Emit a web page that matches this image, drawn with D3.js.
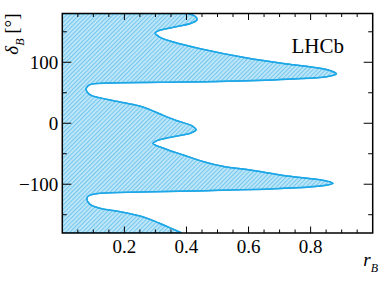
<!DOCTYPE html>
<html>
<head>
<meta charset="utf-8">
<script src="https://cdn.jsdelivr.net/npm/d3@7"></script>
<style>
  html, body { margin: 0; padding: 0; background: #fff; }
  svg { display: block; }
  text { font-family: "Liberation Serif", "DejaVu Serif", serif; fill: #000; }
</style>
</head>
<body>
<div id="chart"></div>
<script>
// boundary of the allowed region (delta_B in degrees, r_B)
const deltaB = [180, 175.4, 169.8, 164.4, 157.3, 151.8, 148, 141, 133.3, 122.3, 107, 97.2, 91.7, 86.2, 81,
  76.4, 72.6, 68.8, 67.1, 66, 63.3, 56.2, 50, 45.2, 37, 28.8, 23.4, 15.2, 4.2, -4, -11, -16.5, -22, -28.6,
  -33, -41, -52, -63, -71, -76.7, -86.5, -92, -96.4, -98.5, -103, -107.3, -111, -113.3, -115.5, -119.3,
  -123.7, -133, -139.5, -145, -152, -157.6, -166.9, -180];
const rB = [0.405, 0.428, 0.434, 0.417, 0.358, 0.310, 0.299, 0.315, 0.358, 0.444, 0.595, 0.724, 0.81, 0.864, 0.883,
  0.853, 0.745, 0.53, 0.315, 0.154, 0.089, 0.0765, 0.082, 0.095, 0.165, 0.245, 0.277, 0.315, 0.369, 0.417, 0.431, 0.412, 0.358, 0.305,
  0.292, 0.326, 0.39, 0.455, 0.52, 0.605, 0.724, 0.82, 0.864, 0.872, 0.831, 0.69, 0.423, 0.208, 0.111, 0.084,
  0.079, 0.089, 0.122, 0.186, 0.25, 0.283, 0.326, 0.385];

const xMajor = [0.2, 0.4, 0.6, 0.8];
const xMinor = d3.range(0.05, 1.0, 0.05);
const yMajor = [-100, 0, 100];
const yMinor = [-150, -50, 50, 150];

const W = 392, H = 282;
const margin = { top: 13.5, right: 19.3, bottom: 49, left: 62.3 };

const x = d3.scaleLinear().domain([0, 1]).range([margin.left, W - margin.right]);
const y = d3.scaleLinear().domain([-180, 180]).range([H - margin.bottom, margin.top]);

const svg = d3.select('#chart').append('svg')
  .attr('width', W)
  .attr('height', H);

const defs = svg.append('defs');
defs.append('clipPath').attr('id', 'plot-clip')
  .append('rect')
  .attr('x', x(0)).attr('y', y(180))
  .attr('width', x(1) - x(0)).attr('height', y(-180) - y(180));

// diagonal hatch like the ROOT fill style
const hatch = defs.append('pattern')
  .attr('id', 'hatch')
  .attr('patternUnits', 'userSpaceOnUse')
  .attr('width', 3).attr('height', 3)
  .attr('patternTransform', 'rotate(45)');
hatch.append('rect').attr('width', 3).attr('height', 3).attr('fill', '#c2e8f9');
hatch.append('line')
  .attr('x1', 0.6).attr('y1', 0).attr('x2', 0.6).attr('y2', 3)
  .attr('stroke', '#72c6ee').attr('stroke-width', 1.1);

const pts = deltaB.map((d, i) => ({ d, r: rB[i] }));

const area = d3.area()
  .y(p => y(p.d))
  .x0(x(0))
  .x1(p => x(p.r))
  .curve(d3.curveCatmullRom.alpha(0.5));

const line = d3.line()
  .y(p => y(p.d))
  .x(p => x(p.r))
  .curve(d3.curveCatmullRom.alpha(0.5));

const plot = svg.append('g').attr('clip-path', 'url(#plot-clip)');

plot.append('path')
  .datum(pts)
  .attr('d', area)
  .attr('fill', 'url(#hatch)')
  .attr('stroke', '#1ea7e6')
  .attr('stroke-width', 1.4);

plot.append('path')
  .datum(pts)
  .attr('d', line)
  .attr('fill', 'none')
  .attr('stroke', '#1ea7e6')
  .attr('stroke-width', 1.5);

// ticks on all four sides
const tk = svg.append('g').attr('stroke', '#000').attr('stroke-width', 1);
const x0 = x(0), x1 = x(1), yTop = y(180), yBot = y(-180);

xMinor.forEach(v => {
  const major = xMajor.some(m => Math.abs(m - v) < 1e-6);
  const len = major ? 6.5 : 3.5;
  tk.append('line').attr('x1', x(v)).attr('x2', x(v)).attr('y1', yBot).attr('y2', yBot - len);
  tk.append('line').attr('x1', x(v)).attr('x2', x(v)).attr('y1', yTop).attr('y2', yTop + len);
});
yMajor.concat(yMinor).forEach(v => {
  const len = yMajor.includes(v) ? 9 : 4.5;
  tk.append('line').attr('y1', y(v)).attr('y2', y(v)).attr('x1', x0).attr('x2', x0 + len);
  tk.append('line').attr('y1', y(v)).attr('y2', y(v)).attr('x1', x1).attr('x2', x1 - len);
});

// frame
svg.append('rect')
  .attr('x', x0).attr('y', yTop)
  .attr('width', x1 - x0).attr('height', yBot - yTop)
  .attr('fill', 'none')
  .attr('stroke', '#000')
  .attr('stroke-width', 1.5);

// tick labels
svg.selectAll('.xlab')
  .data(xMajor)
  .enter().append('text')
  .attr('class', 'xlab')
  .attr('x', d => x(d))
  .attr('y', 252.7)
  .attr('text-anchor', 'middle')
  .style('font-size', '19px')
  .text(d => d3.format('.1f')(d));

svg.selectAll('.ylab')
  .data(yMajor)
  .enter().append('text')
  .attr('class', 'ylab')
  .attr('x', x0 - 4)
  .attr('y', d => y(d) + 6.4)
  .attr('text-anchor', 'end')
  .style('font-size', '19px')
  .text(d => d < 0 ? '\u2212' + Math.abs(d) : d);

// axis titles
const xt = svg.append('text')
  .attr('x', 378)
  .attr('y', 266)
  .attr('text-anchor', 'end')
  .style('font-size', '19px');
xt.append('tspan').style('font-style', 'italic').text('r');
xt.append('tspan').attr('dy', 6).style('font-size', '12px').style('font-style', 'italic').text('B');

const yt = svg.append('text')
  .attr('transform', `translate(17.5, ${yTop}) rotate(-90)`)
  .attr('text-anchor', 'end')
  .style('font-size', '19px');
yt.append('tspan').style('font-style', 'italic').text('\u03b4');
yt.append('tspan').attr('dy', 6).style('font-size', '12px').style('font-style', 'italic').text('B');
yt.append('tspan').attr('dy', -6).text(' [\u00b0]');

svg.append('text')
  .attr('x', 344)
  .attr('y', 52.5)
  .attr('text-anchor', 'end')
  .style('font-size', '21px')
  .text('LHCb');
</script>
</body>
</html>
